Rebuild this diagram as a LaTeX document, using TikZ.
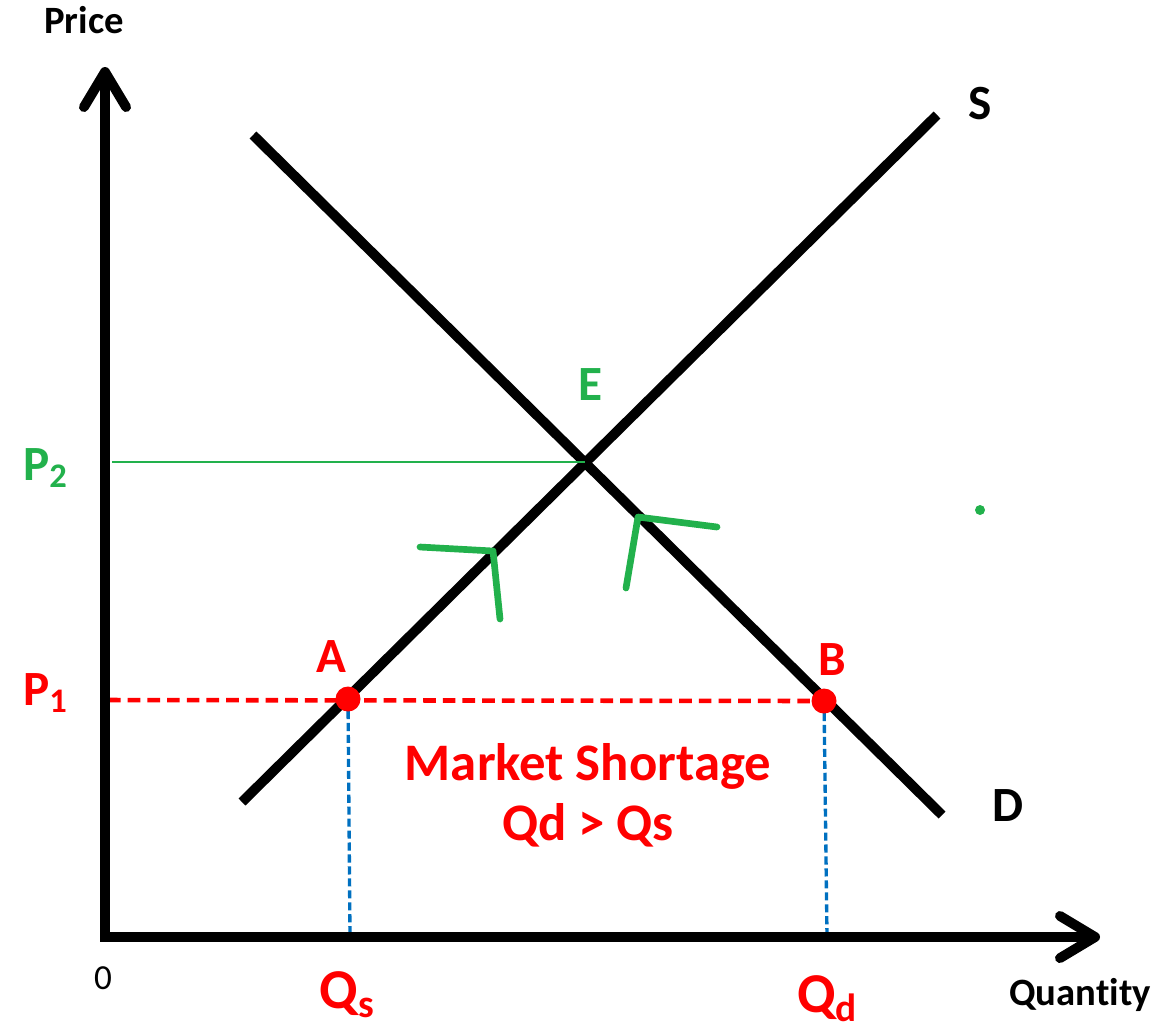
\documentclass[tikz,border=0pt]{standalone}
\usepackage{fontspec}
\setmainfont{Carlito}[Ligatures=CommonOff]
\usetikzlibrary{arrows.meta}
\definecolor{mkgreen}{RGB}{34,177,76}
\definecolor{mkred}{RGB}{255,0,0}
\definecolor{mkblue}{RGB}{0,112,192}
\begin{document}
\begin{tikzpicture}
[x=0.01cm,y=-0.01cm,
 axis/.style={line width=2.8pt,-{Straight Barb[length=10pt,width=12pt,round]}},
 curve/.style={line width=2.8pt},
 tick/.style={mkgreen,line width=1.9pt,line cap=round,line join=round},
 dot/.style={circle,fill=mkred,inner sep=0pt,minimum size=0.25cm},
 every node/.style={inner sep=0pt}]
\useasboundingbox (0,0) rectangle (1171,1030);
% points
\coordinate (O) at (105,937);
\coordinate (ytop) at (105,67);
\coordinate (xend) at (1100,937);
\coordinate (s1) at (242,802);
\coordinate (s2) at (937,115);
\coordinate (d1) at (253,135);
\coordinate (d2) at (942,815);
\coordinate (E) at (585,462);
\coordinate (p2) at (112,462);
\coordinate (p1) at (108,700);
\coordinate (A) at (348,699);
\coordinate (B) at (824,701);
\coordinate (qs) at (350,937);
\coordinate (qd) at (827,937);
% curves and axes
\draw[curve] (s1) -- (s2);
\draw[curve] (d1) -- (d2);
\draw[mkgreen,line width=0.5pt] (p2) -- (E);
\draw[mkred,line width=1.3pt,dash pattern=on 3.6pt off 2pt] (p1) -- (B);
\draw[mkblue,line width=0.95pt,dash pattern=on 2.3pt off 1.1pt] (A) -- (qs);
\draw[mkblue,line width=0.95pt,dash pattern=on 2.3pt off 1.1pt] (B) -- (qd);
\draw[axis] (105,940) -- (ytop);
\draw[axis] (100,937) -- (xend);
% hand marks
\draw[tick] (420,547) -- (493,551) -- (500,619);
\draw[tick] (626,588) -- (638,517) -- (717,527);
\fill[mkgreen] (980,510) circle (5);
\node[dot] (dA) at (A) {};
\node[dot] (dB) at (B) {};
% labels
\node[font=\bfseries\fontsize{11}{13}\selectfont] (price) at (84,20) {Price};
\node[font=\bfseries\fontsize{11}{13}\selectfont] (qty) at (1080,995) {Quantity};
\node[font=\fontsize{10}{12}\selectfont] (zero) at (103,978) {0};
\node[font=\bfseries\fontsize{14}{17}\selectfont] (lS) at (980,104) {S};
\node[font=\bfseries\fontsize{14}{17}\selectfont] (lD) at (1008,806) {D};
\node[mkgreen,font=\bfseries\fontsize{14}{16}\selectfont] (lE) at (590,385) {E};
\node[mkred,font=\bfseries\fontsize{14}{16}\selectfont] (lA) at (331,657) {A};
\node[mkred,font=\bfseries\fontsize{14}{16}\selectfont] (lB) at (832,660) {B};
\node[mkgreen,font=\bfseries\fontsize{14}{16}\selectfont] (lP2) at (46,468) {P\textsubscript{2}};
\node[mkred,font=\bfseries\fontsize{14}{16}\selectfont] (lP1) at (46,693) {P\textsubscript{1}};
\node[mkred,font=\bfseries\fontsize{16}{18}\selectfont] (lQs) at (348,995) {Q\textsubscript{s}};
\node[mkred,font=\bfseries\fontsize{16}{18}\selectfont] (lQd) at (828,999) {Q\textsubscript{d}};
\node[mkred,font=\bfseries\fontsize{15}{18}\selectfont,align=center] (short) at (588,795)
  {Market Shortage\\[-1pt]Qd > Qs};
\end{tikzpicture}
\end{document}
